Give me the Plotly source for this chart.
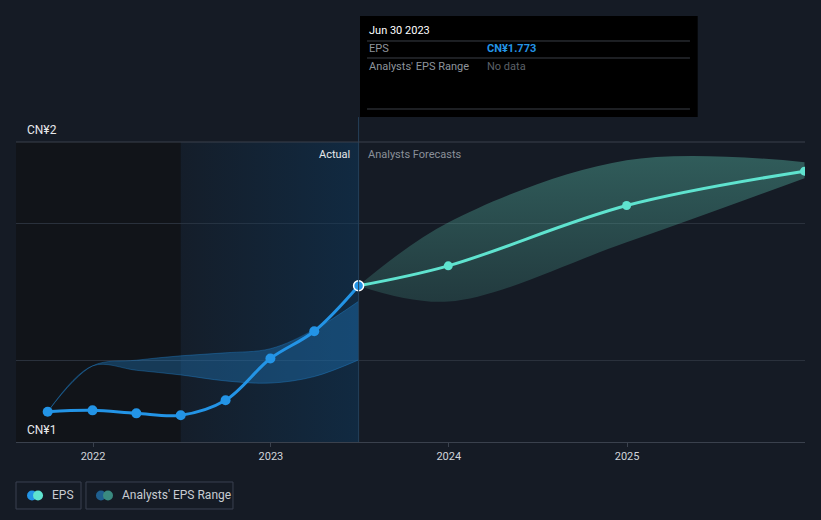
import plotly.graph_objects as go

# ---------------- data ----------------
actual_dates = ['2021-09-30', '2021-12-31', '2022-03-31', '2022-06-30',
                '2022-09-30', '2022-12-31', '2023-03-31', '2023-06-30']
actual_eps = [1.311, 1.316, 1.305, 1.298, 1.353, 1.506, 1.606, 1.773]

past_range_upper = [1.311, 1.479, 1.500, 1.516, 1.527, 1.542, 1.612, 1.716]
past_range_lower = [1.311, 1.479, 1.463, 1.446, 1.424, 1.416, 1.440, 1.501]

fc_dates = ['2023-06-30', '2023-12-31', '2024-12-31', '2025-12-31']
fc_eps = [1.773, 1.846, 2.067, 2.193]
fc_upper = [1.773, 2.005, 2.233, 2.226]
fc_lower = [1.773, 1.715, 1.932, 2.167]

x_tick_vals = ['2022-01-01', '2023-01-01', '2024-01-01', '2025-01-01']
x_tick_text = ['2022', '2023', '2024', '2025']
y_range = [1.2, 2.3]
y_grid = [1.5, 2.0]
y_label_vals = [2.3, 1.2]
y_label_text = ['CN¥2', 'CN¥1']
x_range = ['2021-07-27', '2026-01-01']
past_year_start = '2022-06-30'
tooltip_date = 'Jun 30 2023'

BG = '#151b25'
BLUE = '#2394e6'
MINT = '#5fe3cf'
FONT = 'Roboto'

fig = go.Figure()

# highlighted last-year region (gradient)
fig.add_trace(go.Scatter(
    x=[past_year_start, actual_dates[-1], actual_dates[-1], past_year_start, past_year_start],
    y=[y_range[0], y_range[0], y_range[1], y_range[1], y_range[0]],
    mode='lines', line=dict(width=0), fill='toself',
    fillgradient=dict(type='horizontal',
                      colorscale=[[0, 'rgba(12,60,100,0.08)'], [1, 'rgba(12,60,100,0.45)']]),
    hoverinfo='skip', showlegend=False))

# past analyst range
fig.add_trace(go.Scatter(x=actual_dates, y=past_range_upper, mode='lines',
                         line=dict(color='rgba(33,140,220,0.35)', width=1, shape='spline'),
                         hoverinfo='skip', showlegend=False))
fig.add_trace(go.Scatter(x=actual_dates, y=past_range_lower, mode='lines',
                         line=dict(color='rgba(33,140,220,0.35)', width=1, shape='spline'),
                         fill='tonexty', fillcolor='rgba(33,140,220,0.32)',
                         hoverinfo='skip', showlegend=False))

# forecast range
fig.add_trace(go.Scatter(x=fc_dates, y=fc_upper, mode='lines',
                         line=dict(color='rgba(86,182,164,0.0)', width=0, shape='spline'),
                         hoverinfo='skip', showlegend=False))
fig.add_trace(go.Scatter(x=fc_dates, y=fc_lower, mode='lines',
                         line=dict(color='rgba(86,182,164,0.0)', width=0, shape='spline'),
                         fill='tonexty',
                         fillgradient=dict(type='vertical',
                                           colorscale=[[0, 'rgba(86,182,164,0.2)'],
                                                       [1, 'rgba(86,182,164,0.42)']]),
                         hoverinfo='skip', showlegend=False))

# forecast EPS line
fig.add_trace(go.Scatter(x=fc_dates, y=fc_eps, mode='lines',
                         line=dict(color=MINT, width=3, shape='spline'),
                         hoverinfo='skip', showlegend=False))
fig.add_trace(go.Scatter(x=fc_dates[1:], y=fc_eps[1:], mode='markers',
                         marker=dict(color=MINT, size=9),
                         hoverinfo='skip', showlegend=False))

# actual EPS line
fig.add_trace(go.Scatter(x=actual_dates, y=actual_eps, mode='lines+markers',
                         line=dict(color=BLUE, width=3, shape='spline'),
                         marker=dict(color=BLUE, size=10),
                         hoverinfo='skip', showlegend=False))
fig.add_trace(go.Scatter(x=[actual_dates[-1]], y=[actual_eps[-1]], mode='markers',
                         marker=dict(color=BLUE, size=10, line=dict(color='white', width=1.5)),
                         hoverinfo='skip', showlegend=False))

shapes = [
    # dark region before last year
    dict(type='rect', xref='x', yref='paper', x0=x_range[0], x1=past_year_start,
         y0=0, y1=1, fillcolor='#111419', line=dict(width=0), layer='below'),
    # vertical marker line
    dict(type='line', xref='x', yref='paper', x0=actual_dates[-1], x1=actual_dates[-1],
         y0=0, y1=1.083, line=dict(color='#25405a', width=1)),
    # top border line
    dict(type='line', xref='paper', yref='paper', x0=0, x1=1, y0=1, y1=1,
         line=dict(color='#3a414d', width=1)),
    # tooltip
    dict(type='rect', xref='paper', yref='paper', x0=0.436, x1=0.864, y0=1.083, y1=1.42,
         fillcolor='#000000', line=dict(width=0)),
]
for yy in [1.3367, 1.28, 1.11]:
    shapes.append(dict(type='line', xref='paper', yref='paper', x0=0.4449, x1=0.8542,
                       y0=yy, y1=yy, line=dict(color='#3a3f47', width=1)))

# legend boxes
for x0, x1 in [(0.0, 0.0824), (0.0887, 0.275)]:
    shapes.append(dict(type='rect', xref='paper', yref='paper', x0=x0, x1=x1,
                       y0=-0.2233, y1=-0.1333, fillcolor='rgba(0,0,0,0)',
                       line=dict(color='#3a4050', width=1)))
for xc, col in [(0.0203, BLUE), (0.0279, MINT), (0.1077, '#1f5f8f'), (0.1166, '#3a8a80')]:
    shapes.append(dict(type='circle', xref='paper', yref='paper',
                       xsizemode='pixel', ysizemode='pixel', xanchor=xc, yanchor=-0.1783,
                       x0=-5, x1=5, y0=-5, y1=5, fillcolor=col, line=dict(width=0)))

annotations = []
for v, t in zip(y_label_vals, y_label_text):
    annotations.append(dict(xref='paper', yref='y', x=0.0114, y=v, text=t, showarrow=False,
                            xanchor='left', yanchor='bottom', yshift=3,
                            font=dict(family=FONT, size=12, color='#e6e8eb')))


def ann(x, y, text, color, size=11, xref='paper', xanchor='left', xshift=0):
    return dict(xref=xref, yref='paper', x=x, y=y, text=text, showarrow=False,
                xanchor=xanchor, yanchor='middle', xshift=xshift,
                font=dict(family=FONT, size=size, color=color))


annotations += [
    ann(actual_dates[-1], 0.96, 'Actual', '#e6e8eb', xref='x', xanchor='right', xshift=-7),
    ann(actual_dates[-1], 0.96, 'Analysts Forecasts', '#8a9099', xref='x', xshift=7),
    ann(0.4449, 1.37, tooltip_date, '#ffffff'),
    ann(0.4449, 1.3133, 'EPS', '#8e949c'),
    ann(0.5944, 1.3133, f'<b>CN¥{actual_eps[-1]:.3f}</b>', BLUE),
    ann(0.4449, 1.2533, "Analysts' EPS Range", '#8e949c'),
    ann(0.5944, 1.2533, 'No data', '#5c6168'),
    ann(0.0431, -0.1783, 'EPS', '#c8ccd2', size=12),
    ann(0.1318, -0.1783, "Analysts' EPS Range", '#c8ccd2', size=12),
]

fig.update_layout(
    width=821, height=520,
    margin=dict(l=16, r=16, t=142, b=78),
    paper_bgcolor=BG, plot_bgcolor=BG,
    showlegend=False,
    shapes=shapes, annotations=annotations,
    font=dict(family=FONT),
    xaxis=dict(type='date', range=x_range, tickvals=x_tick_vals, ticktext=x_tick_text,
               showgrid=False, zeroline=False, showline=True, linecolor='#3a414d',
               ticks='outside', ticklen=4, tickcolor='#3a414d', automargin=False,
               tickfont=dict(family=FONT, size=11, color='#d0d4da'), fixedrange=True),
    yaxis=dict(range=y_range, tickvals=y_grid, showticklabels=False, showgrid=True,
               gridcolor='#2a313c', gridwidth=1, zeroline=False, showline=False,
               automargin=False, fixedrange=True),
)

fig.write_html('out.html')
